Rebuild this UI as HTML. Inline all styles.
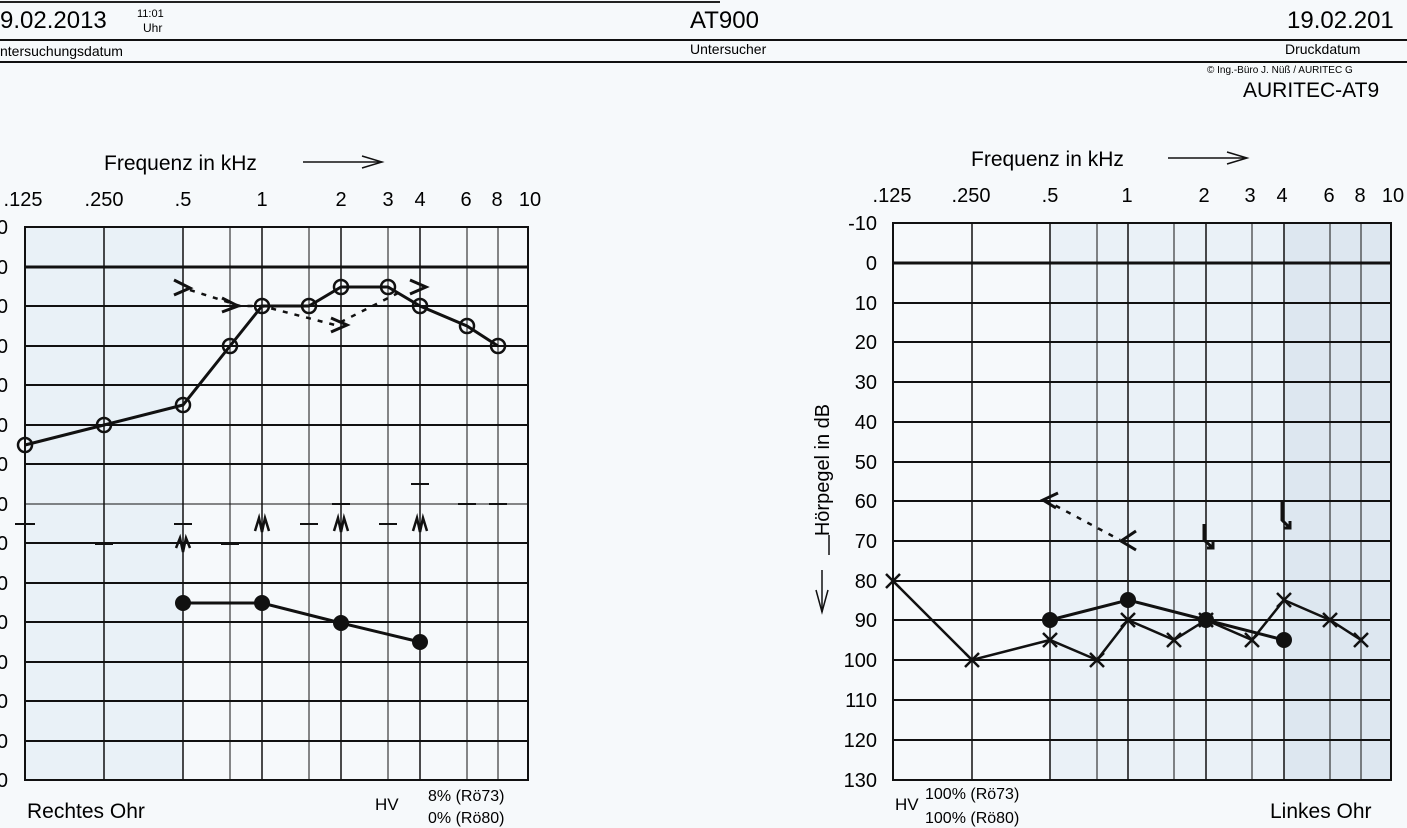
<!DOCTYPE html>
<html><head><meta charset="utf-8"><style>
html,body{margin:0;padding:0;background:#f6f9fb;}
svg{display:block;font-family:"Liberation Sans",sans-serif;}
</style></head><body>
<svg width="1407" height="828" viewBox="0 0 1407 828" xmlns="http://www.w3.org/2000/svg">
<rect width="1407" height="828" fill="#f6f9fb"/>
<!-- header -->
<line x1="0" y1="2" x2="720" y2="2" stroke="#222" stroke-width="2"/>
<line x1="0" y1="40" x2="1407" y2="40" stroke="#111" stroke-width="2"/>
<line x1="0" y1="62" x2="1407" y2="62" stroke="#111" stroke-width="2"/>
<text x="0" y="28" font-size="24">9.02.2013</text>
<text x="137" y="17" font-size="11">11:01</text>
<text x="143" y="32" font-size="12">Uhr</text>
<text x="690" y="28" font-size="24">AT900</text>
<text x="1287" y="28" font-size="24">19.02.201</text>
<text x="0" y="56" font-size="14">ntersuchungsdatum</text>
<text x="690" y="54" font-size="14">Untersucher</text>
<text x="1285" y="54" font-size="14">Druckdatum</text>
<text x="1207" y="73" font-size="10">© Ing.-Büro J. Nüß / AURITEC G</text>
<text x="1243" y="97" font-size="21">AURITEC-AT9</text>

<!-- LEFT CHART -->
<rect x="25" y="227" width="158" height="553" fill="#e9f1f7"/>
<rect x="25" y="227" width="503" height="553" fill="none" stroke="#111" stroke-width="2"/>
<g stroke="#111" stroke-width="1.5">
<line x1="104" y1="227" x2="104" y2="780"/><line x1="183" y1="227" x2="183" y2="780"/>
<line x1="230" y1="227" x2="230" y2="780" stroke-width="1"/><line x1="262" y1="227" x2="262" y2="780"/>
<line x1="309" y1="227" x2="309" y2="780" stroke-width="1"/><line x1="341" y1="227" x2="341" y2="780"/>
<line x1="388" y1="227" x2="388" y2="780" stroke-width="1"/><line x1="420" y1="227" x2="420" y2="780"/>
<line x1="467" y1="227" x2="467" y2="780" stroke-width="1"/><line x1="498" y1="227" x2="498" y2="780" stroke-width="1"/>
</g>
<g stroke="#111" stroke-width="2">
<line x1="25" y1="267" x2="528" y2="267" stroke-width="3"/>
<line x1="25" y1="306" x2="528" y2="306"/><line x1="25" y1="346" x2="528" y2="346"/>
<line x1="25" y1="385" x2="528" y2="385"/><line x1="25" y1="425" x2="528" y2="425"/>
<line x1="25" y1="464" x2="528" y2="464"/><line x1="25" y1="504" x2="528" y2="504" stroke-width="1"/>
<line x1="25" y1="543" x2="528" y2="543"/><line x1="25" y1="583" x2="528" y2="583"/>
<line x1="25" y1="622" x2="528" y2="622"/><line x1="25" y1="662" x2="528" y2="662"/>
<line x1="25" y1="701" x2="528" y2="701"/><line x1="25" y1="741" x2="528" y2="741"/>
</g>
<g font-size="20" text-anchor="end">
<text x="8" y="234">0</text><text x="8" y="274">0</text><text x="8" y="313">0</text><text x="8" y="353">0</text>
<text x="8" y="392">0</text><text x="8" y="432">0</text><text x="8" y="471">0</text><text x="8" y="511">0</text>
<text x="8" y="550">0</text><text x="8" y="590">0</text><text x="8" y="629">0</text><text x="8" y="669">0</text>
<text x="8" y="708">0</text><text x="8" y="748">0</text><text x="8" y="787">0</text>
</g>
<g font-size="20" text-anchor="middle">
<text x="23" y="206">.125</text><text x="104" y="206">.250</text><text x="183" y="206">.5</text>
<text x="262" y="206">1</text><text x="341" y="206">2</text><text x="388" y="206">3</text>
<text x="420" y="206">4</text><text x="466" y="206">6</text><text x="497" y="206">8</text><text x="530" y="206">10</text>
</g>
<text x="104" y="170" font-size="21">Frequenz in kHz</text>
<line x1="303" y1="162" x2="380" y2="162" stroke="#111" stroke-width="1.5"/>
<path d="M362 156 L382 162 L362 168" fill="none" stroke="#111" stroke-width="1.5"/>
<!-- left data -->
<polyline points="25,445 104,425 183,405 230,346 262,306 309,306 341,287 388,287 420,306 467,326 498,346" fill="none" stroke="#111" stroke-width="3"/>
<g fill="none" stroke="#111" stroke-width="2.5">
<circle cx="25" cy="445" r="7"/><circle cx="104" cy="425" r="7"/><circle cx="183" cy="405" r="7"/>
<circle cx="230" cy="346" r="7"/><circle cx="262" cy="306" r="7"/><circle cx="309" cy="306" r="7"/>
<circle cx="341" cy="287" r="7"/><circle cx="388" cy="287" r="7"/><circle cx="420" cy="306" r="7"/>
<circle cx="467" cy="326" r="7"/><circle cx="498" cy="346" r="7"/>
</g>
<polyline points="190,290 240,306 262,306 335,325 400,292" fill="none" stroke="#111" stroke-width="2.5" stroke-dasharray="5,7"/>
<g fill="none" stroke="#111" stroke-width="3">
<path d="M174 280 L190 288 L174 295"/><path d="M222 298 L238 306 L222 312"/>
<path d="M331 318 L347 325 L331 332"/><path d="M410 280 L426 287 L410 294"/>
</g>
<polyline points="183,603 262,603 341,623 420,642" fill="none" stroke="#111" stroke-width="3"/>
<g fill="#111"><circle cx="183" cy="603" r="8"/><circle cx="262" cy="603" r="8"/><circle cx="341" cy="623" r="8"/><circle cx="420" cy="642" r="8"/></g>
<g stroke="#111" stroke-width="2">
<line x1="15" y1="524" x2="35" y2="524"/><line x1="174" y1="524" x2="192" y2="524"/>
<line x1="300" y1="524" x2="318" y2="524"/><line x1="379" y1="524" x2="397" y2="524"/>
<line x1="95" y1="544" x2="113" y2="544"/><line x1="221" y1="544" x2="239" y2="544"/>
<line x1="332" y1="504" x2="350" y2="504"/><line x1="458" y1="504" x2="476" y2="504"/>
<line x1="489" y1="504" x2="507" y2="504"/><line x1="411" y1="484" x2="429" y2="484"/>
</g>
<g fill="none" stroke="#111" stroke-width="2.5">
<path d="M176 548 L180 538 L183 552 L186 538 L190 548"/>
<path d="M255 531 L259 518 L262 532 L265 518 L269 531"/>
<path d="M334 531 L338 518 L341 532 L344 518 L348 531"/>
<path d="M413 531 L417 518 L420 532 L423 518 L427 531"/>
</g>
<text x="27" y="818" font-size="21">Rechtes Ohr</text>
<text x="375" y="810" font-size="17">HV</text>
<text x="428" y="801" font-size="16">8% (Rö73)</text>
<text x="428" y="823" font-size="16">0% (Rö80)</text>

<!-- RIGHT CHART -->
<rect x="1050" y="223" width="234" height="557" fill="#eaf1f7"/>
<rect x="1284" y="223" width="107" height="557" fill="#dde7f0"/>
<rect x="893" y="223" width="498" height="557" fill="none" stroke="#111" stroke-width="2"/>
<g stroke="#111" stroke-width="1.5">
<line x1="972" y1="223" x2="972" y2="780"/><line x1="1050" y1="223" x2="1050" y2="780"/>
<line x1="1097" y1="223" x2="1097" y2="780" stroke-width="1"/><line x1="1128" y1="223" x2="1128" y2="780"/>
<line x1="1174" y1="223" x2="1174" y2="780" stroke-width="1"/><line x1="1206" y1="223" x2="1206" y2="780"/>
<line x1="1252" y1="223" x2="1252" y2="780" stroke-width="1"/><line x1="1284" y1="223" x2="1284" y2="780"/>
<line x1="1330" y1="223" x2="1330" y2="780" stroke-width="1"/><line x1="1361" y1="223" x2="1361" y2="780" stroke-width="1"/>
</g>
<g stroke="#111" stroke-width="2">
<line x1="893" y1="263" x2="1391" y2="263" stroke-width="3"/>
<line x1="893" y1="303" x2="1391" y2="303"/><line x1="893" y1="342" x2="1391" y2="342"/>
<line x1="893" y1="382" x2="1391" y2="382"/><line x1="893" y1="422" x2="1391" y2="422"/>
<line x1="893" y1="462" x2="1391" y2="462"/><line x1="893" y1="501" x2="1391" y2="501"/>
<line x1="893" y1="541" x2="1391" y2="541"/><line x1="893" y1="581" x2="1391" y2="581"/>
<line x1="893" y1="620" x2="1391" y2="620"/><line x1="893" y1="660" x2="1391" y2="660"/>
<line x1="893" y1="700" x2="1391" y2="700"/><line x1="893" y1="740" x2="1391" y2="740"/>
</g>
<g font-size="20" text-anchor="end">
<text x="877" y="230">-10</text><text x="877" y="270">0</text><text x="877" y="310">10</text><text x="877" y="349">20</text>
<text x="877" y="389">30</text><text x="877" y="429">40</text><text x="877" y="469">50</text><text x="877" y="508">60</text>
<text x="877" y="548">70</text><text x="877" y="588">80</text><text x="877" y="627">90</text><text x="877" y="667">100</text>
<text x="877" y="707">110</text><text x="877" y="747">120</text><text x="877" y="787">130</text>
</g>
<g font-size="20" text-anchor="middle">
<text x="892" y="202">.125</text><text x="971" y="202">.250</text><text x="1050" y="202">.5</text>
<text x="1127" y="202">1</text><text x="1204" y="202">2</text><text x="1250" y="202">3</text>
<text x="1282" y="202">4</text><text x="1329" y="202">6</text><text x="1360" y="202">8</text><text x="1393" y="202">10</text>
</g>
<text x="971" y="166" font-size="21">Frequenz in kHz</text>
<line x1="1168" y1="158" x2="1245" y2="158" stroke="#111" stroke-width="1.5"/>
<path d="M1227 152 L1247 158 L1227 164" fill="none" stroke="#111" stroke-width="1.5"/>
<text transform="translate(829,470) rotate(-90)" font-size="20" text-anchor="middle">Hörpegel in dB</text>
<line x1="829" y1="535" x2="829" y2="555" stroke="#111" stroke-width="1.5"/>
<line x1="822" y1="570" x2="822" y2="612" stroke="#111" stroke-width="1.5"/>
<path d="M816 590 L822 612 L828 590" fill="none" stroke="#111" stroke-width="1.5"/>
<!-- right data -->
<polyline points="893,581 972,660 1050,640 1097,660 1128,620 1174,640 1206,620 1252,640 1284,600 1330,620 1361,640" fill="none" stroke="#111" stroke-width="2.5"/>
<g stroke="#111" stroke-width="2.5">
<path d="M886 574 L900 588 M900 574 L886 588"/><path d="M965 653 L979 667 M979 653 L965 667"/>
<path d="M1043 633 L1057 647 M1057 633 L1043 647"/><path d="M1090 653 L1104 667 M1104 653 L1090 667"/>
<path d="M1121 613 L1135 627 M1135 613 L1121 627"/><path d="M1167 633 L1181 647 M1181 633 L1167 647"/>
<path d="M1199 613 L1213 627 M1213 613 L1199 627"/><path d="M1245 633 L1259 647 M1259 633 L1245 647"/>
<path d="M1277 593 L1291 607 M1291 593 L1277 607"/><path d="M1323 613 L1337 627 M1337 613 L1323 627"/>
<path d="M1354 633 L1368 647 M1368 633 L1354 647"/>
</g>
<polyline points="1050,620 1128,600 1206,620 1284,640" fill="none" stroke="#111" stroke-width="3"/>
<g fill="#111"><circle cx="1050" cy="620" r="8"/><circle cx="1128" cy="600" r="8"/><circle cx="1206" cy="620" r="8"/><circle cx="1284" cy="640" r="8"/></g>
<line x1="1045" y1="500" x2="1120" y2="540" stroke="#111" stroke-width="2.5" stroke-dasharray="5,7"/>
<g fill="none" stroke="#111" stroke-width="3">
<path d="M1058 493 L1043 500 L1056 508"/><path d="M1136 531 L1121 541 L1136 550"/>
<path d="M1204 524 L1204 540 L1213 548 M1207 548 L1213 548 L1213 541"/>
<path d="M1282 502 L1282 520 L1290 528 M1284 528 L1290 528 L1290 521"/>
</g>
<text x="895" y="810" font-size="17">HV</text>
<text x="925" y="799" font-size="16">100% (Rö73)</text>
<text x="925" y="823" font-size="16">100% (Rö80)</text>
<text x="1270" y="818" font-size="21">Linkes Ohr</text>
</svg>
</body></html>
